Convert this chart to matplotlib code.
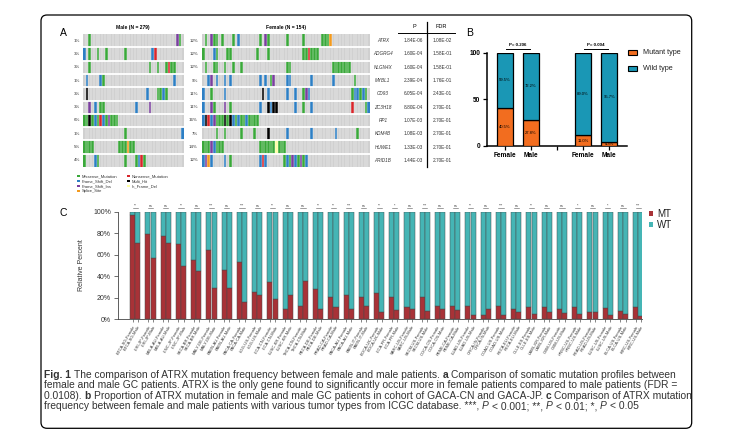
import matplotlib
matplotlib.use('Agg')
import matplotlib.pyplot as plt
import numpy as np
from matplotlib.colors import ListedColormap, BoundaryNorm
from matplotlib.patches import FancyBboxPatch, Rectangle

plt.rcParams['font.family'] = ['Liberation Sans', 'DejaVu Sans']

# ---------------- data ----------------
genes = ['ATRX', 'ADGRG4', 'NLGN4X', 'MYBL1', 'CD93', 'ZC3H18', 'RP1', 'KDM4B', 'HUWE1', 'ARID1B']
male_pct = ['1%', '3%', '3%', '1%', '3%', '3%', '6%', '1%', '5%', '4%']
female_pct = ['12%', '12%', '12%', '9%', '11%', '11%', '16%', '7%', '14%', '12%']
p_vals = ['1.84E-06', '1.60E-04', '1.60E-04', '2.39E-04', '6.05E-04', '8.80E-04', '1.07E-03', '1.08E-03', '1.33E-03', '1.44E-03']
fdr_vals = ['1.08E-02', '1.58E-01', '1.58E-01', '1.76E-01', '2.43E-01', '2.70E-01', '2.70E-01', '2.70E-01', '2.70E-01', '2.70E-01']

mut_types = ['Missense_Mutation', 'Frame_Shift_Del', 'Frame_Shift_Ins', 'Splice_Site',
             'Nonsense_Mutation', 'Multi_Hit', 'In_Frame_Del']
mut_codes = ['M', 'D', 'I', 'S', 'N', 'H', 'F']
mut_colors = ['#3aa83a', '#2d7fc4', '#7a3f9e', '#f39a1e', '#d8262c', '#000000', '#ffffa6']

male_n_cols = 37
male_mut = [
    [(2, 'M'), (34, 'I'), (35, 'M')],
    [(0, 'D'), (2, 'M'), (5, 'M'), (8, 'M'), (15, 'M'), (25, 'D'), (26, 'N')],
    [(2, 'M'), (24, 'M'), (27, 'M'), (30, 'M'), (31, 'N'), (32, 'M'), (33, 'M')],
    [(1, 'D'), (6, 'D'), (7, 'M'), (33, 'D')],
    [(1, 'H'), (23, 'D'), (27, 'M'), (28, 'M'), (29, 'D'), (30, 'M')],
    [(2, 'I'), (4, 'D'), (6, 'M'), (7, 'M'), (19, 'D'), (24, 'I')],
    [(0, 'M'), (1, 'M'), (2, 'H'), (3, 'M'), (4, 'D'), (5, 'M'), (6, 'N'), (7, 'D'), (8, 'M'),
     (9, 'I'), (10, 'M'), (11, 'M'), (12, 'M')],
    [(15, 'M'), (36, 'D')],
    [(0, 'M'), (1, 'M'), (2, 'M'), (3, 'M'), (13, 'M'), (14, 'M'), (15, 'M'), (16, 'S'), (17, 'M'), (18, 'M')],
    [(0, 'M'), (4, 'D'), (5, 'M'), (15, 'M'), (19, 'M'), (20, 'D'), (21, 'N'), (22, 'M')],
]
female_n_cols = 62
female_mut = [
    [(1, 'M'), (3, 'I'), (4, 'M'), (5, 'M'), (7, 'M'), (11, 'M'), (13, 'D'), (21, 'M'), (23, 'I'),
     (24, 'M'), (31, 'M'), (37, 'M'), (44, 'M'), (45, 'M'), (46, 'M'), (47, 'S')],
    [(0, 'M'), (4, 'D'), (5, 'M'), (9, 'M'), (10, 'M'), (20, 'M'), (24, 'M'), (37, 'M'), (38, 'M'),
     (39, 'N'), (40, 'M'), (41, 'M'), (42, 'M')],
    [(1, 'M'), (4, 'M'), (5, 'M'), (8, 'M'), (11, 'M'), (14, 'M'), (31, 'M'), (32, 'M'), (48, 'M'),
     (49, 'M'), (50, 'M'), (51, 'M'), (52, 'M'), (53, 'M'), (54, 'M')],
    [(2, 'D'), (3, 'I'), (5, 'D'), (8, 'D'), (10, 'D'), (21, 'D'), (23, 'D'), (25, 'M'), (26, 'I'),
     (31, 'D'), (32, 'D'), (40, 'D'), (48, 'D'), (56, 'M')],
    [(0, 'D'), (3, 'M'), (8, 'D'), (22, 'H'), (24, 'D'), (31, 'D'), (34, 'D'), (37, 'M'), (38, 'I'),
     (39, 'D'), (55, 'M'), (56, 'D'), (57, 'D'), (58, 'M'), (59, 'D'), (60, 'M')],
    [(0, 'D'), (3, 'I'), (4, 'M'), (8, 'I'), (10, 'M'), (21, 'D'), (24, 'H'), (25, 'D'), (26, 'H'),
     (27, 'H'), (34, 'D'), (37, 'M'), (40, 'D'), (55, 'N'), (60, 'M'), (61, 'D')],
    [(0, 'D'), (1, 'H'), (2, 'N'), (3, 'D'), (4, 'I'), (5, 'M'), (6, 'M'), (7, 'M'), (8, 'H'), (9, 'M'),
     (10, 'H'), (11, 'D'), (12, 'M'), (13, 'D'), (14, 'M'), (15, 'M'), (16, 'D'), (17, 'M'), (18, 'M'),
     (19, 'M'), (20, 'M')],
    [(5, 'M'), (8, 'M'), (14, 'M'), (19, 'M'), (24, 'H'), (31, 'D'), (40, 'D'), (49, 'D'), (57, 'M')],
    [(0, 'M'), (1, 'M'), (2, 'M'), (3, 'I'), (4, 'D'), (5, 'M'), (6, 'M'), (7, 'M'), (21, 'M'), (22, 'M'),
     (23, 'M'), (24, 'M'), (25, 'M'), (26, 'M'), (27, 'F'), (28, 'M'), (29, 'M'), (30, 'M')],
    [(0, 'D'), (1, 'I'), (2, 'S'), (3, 'D'), (8, 'D'), (10, 'M'), (21, 'D'), (22, 'N'), (23, 'D'),
     (30, 'M'), (31, 'D'), (32, 'M'), (33, 'I'), (34, 'D'), (35, 'M'), (36, 'I'), (37, 'M'), (38, 'D')],
]

# Panel B
b_labels = ['Female', 'Male', '', 'Female', 'Male']
b_positions = [0, 1, 3, 4]
b_mutant = [40.5, 27.8, 11.0, 4.3]
b_wild = [59.5, 72.2, 89.0, 95.7]
b_pvals = ['P= 0.206', 'P= 0.004']

# Panel C
c_projects = ['BTCA-SG', 'LIRI-JP', 'MELA-AU', 'LINC-JP', 'SKCA-BR', 'MALY-DE', 'PAEN-AU', 'PACA-CA',
              'LGG-US', 'LICA-CN', 'LUSC-KR', 'THCA-CN', 'PBCA-DE', 'PRAD-CA', 'PACA-AU', 'PAEN-IT',
              'BOCA-UK', 'LICA-FR', 'SARC-US', 'SKCM-US', 'COCA-CN', 'PEME-CA', 'LUAD-US', 'ORCA-IN',
              'COAD-US', 'RECA-EU', 'CLLE-ES', 'LAML-KR', 'GBM-US', 'HNSC-US', 'READ-US', 'LUSC-US',
              'BLCA-US', 'KIRC-US']
c_female_mt = [97, 79, 77, 70, 55, 64, 46, 53, 25, 35, 10, 12.4, 28, 21, 23, 21, 24, 20.4, 11.5, 21,
               12, 12.7, 12.4, 3.7, 12.4, 9.9, 11.8, 11.5, 9.6, 11.8, 6.5, 10.5, 7.7, 11]
c_male_mt = [71, 57, 71, 49.5, 45, 29, 29, 16, 22.5, 19, 23, 35.6, 9.3, 11.8, 9.6, 12, 6.8, 8.7, 9.6, 8,
             9.6, 9, 4.3, 9.6, 3.7, 6.8, 5, 6.8, 6.2, 5, 6.5, 4, 5, 3.4]
c_sig = ['**', 'ns', 'ns', '**', 'ns', '***', 'ns', '***', 'ns', '**', 'ns', 'ns', '**', '**', '***', 'ns',
         '**', '*', 'ns', '***', 'ns', 'ns', '**', 'ns', '***', 'ns', '**', 'ns', 'ns', '*', 'ns', '*',
         'ns', '***']

# caption: list of (text, weight, style) runs per line
caption_lines = [
    [("Fig. 1", 'bold', 'normal'),
     (" The comparison of ATRX mutation frequency between female and male patients. ", 'normal', 'normal'),
     ("a", 'bold', 'normal'),
     (" Comparison of somatic mutation profiles between", 'normal', 'normal')],
    [("female and male GC patients. ATRX is the only gene found to significantly occur more in female patients compared to male patients (FDR =", 'normal', 'normal')],
    [("0.0108). ", 'normal', 'normal'), ("b", 'bold', 'normal'),
     (" Proportion of ATRX mutation in female and male GC patients in cohort of GACA-CN and GACA-JP. ", 'normal', 'normal'),
     ("c", 'bold', 'normal'), (" Comparison of ATRX mutation", 'normal', 'normal')],
    [("frequency between female and male patients with various tumor types from ICGC database. ***, ", 'normal', 'normal'),
     ("P", 'normal', 'italic'), (" < 0.001; **, ", 'normal', 'normal'), ("P", 'normal', 'italic'),
     (" < 0.01; *, ", 'normal', 'normal'), ("P", 'normal', 'italic'), (" < 0.05", 'normal', 'normal')],
]

# ---------------- figure ----------------
W, H = 732, 444
fig = plt.figure(figsize=(W / 100, H / 100), dpi=100)
fig.patch.set_facecolor('white')


def px_axes(x0, y0, x1, y1):
    a = fig.add_axes([x0 / W, 1 - y1 / H, (x1 - x0) / W, (y1 - y0) / H])
    a.set_facecolor('none')
    return a


bg = fig.add_axes([0, 0, 1, 1])
bg.set_xlim(0, W)
bg.set_ylim(H, 0)
bg.axis('off')

bg.add_patch(FancyBboxPatch((41, 15), 650.7, 413.3, boxstyle='round,pad=0,rounding_size=6',
                            fc='none', ec='black', lw=0.9))

# ---------- Panel A ----------
bg.text(63, 33, 'A', fontsize=7.5, ha='center', va='center')
cmap = ListedColormap(['#d0d0d0'] + mut_colors)
norm = BoundaryNorm(np.arange(-0.5, len(mut_colors) + 1.5), cmap.N)
row_top, row_h = 34.0, 13.3


def oncoprint(x0, x1, ncols, muts):
    a = px_axes(x0, row_top, x1, row_top + row_h * len(genes))
    mat = np.zeros((len(genes), ncols))
    for r, lst in enumerate(muts):
        for c, t in lst:
            mat[r, c] = mut_codes.index(t) + 1
    a.pcolormesh(np.arange(ncols + 1), np.arange(len(genes) + 1), mat, cmap=cmap, norm=norm)
    a.vlines(np.arange(1, ncols), 0, len(genes), colors='white', lw=0.3)
    a.hlines(np.arange(1, len(genes)), 0, ncols, colors='white', lw=1.3)
    a.set_xlim(0, ncols)
    a.set_ylim(len(genes), 0)
    a.axis('off')
    return a


oncoprint(83, 184, male_n_cols, male_mut)
oncoprint(202, 370, female_n_cols, female_mut)
bg.text(133, 27, 'Male (N = 279)', fontsize=3.6, fontweight='bold', ha='center', va='center')
bg.text(286, 27, 'Female (N = 154)', fontsize=3.6, fontweight='bold', ha='center', va='center')
for i, g in enumerate(genes):
    yc = row_top + row_h * (i + 0.5)
    bg.text(80, yc, male_pct[i], fontsize=3.2, ha='right', va='center', color='#333333')
    bg.text(198, yc, female_pct[i], fontsize=3.2, ha='right', va='center', color='#333333')
    bg.text(383, yc, g, fontsize=3.3, style='italic', ha='center', va='center', color='#333333')
    bg.text(413, yc, p_vals[i], fontsize=3.4, ha='center', va='center', color='#333333')
    bg.text(442, yc, fdr_vals[i], fontsize=3.4, ha='center', va='center', color='#333333')
bg.text(414, 27, 'P', fontsize=4, ha='center', va='center')
bg.text(441, 27, 'FDR', fontsize=4, ha='center', va='center')
bg.plot([398, 455], [33, 33], color='black', lw=0.7)
bg.plot([427, 427], [22, 167], color='black', lw=0.9)

leg_pos = [(78.5, 176), (78.5, 181), (78.5, 186), (78.5, 191), (128.5, 176), (128.5, 181), (128.5, 186)]
for (lx, ly), name, col in zip(leg_pos, mut_types, mut_colors):
    bg.add_patch(Rectangle((lx - 1.1, ly - 1.1), 2.2, 2.2, fc=col, ec='none'))
    bg.text(lx + 3, ly, name, fontsize=3.0, ha='left', va='center', color='#333333')

# ---------- Panel B ----------
bg.text(470, 33, 'B', fontsize=7.5, ha='center', va='center')
axB = px_axes(486.7, 52.7, 627, 145.7)
orange, teal = '#f26d1f', '#1a97b5'
axB.bar(b_positions, b_mutant, width=0.62, color=orange, edgecolor='black', lw=0.9, zorder=3)
axB.bar(b_positions, b_wild, bottom=b_mutant, width=0.62, color=teal, edgecolor='black', lw=0.9, zorder=3)
for x, m, w in zip(b_positions, b_mutant, b_wild):
    axB.text(x, m / 2, f'{m:.1f}%', fontsize=3.0, ha='center', va='center', zorder=4)
    axB.text(x, m + w / 2, f'{w:.1f}%', fontsize=3.0, ha='center', va='center', zorder=4)
for k, lab in enumerate(b_pvals):
    x0, x1 = b_positions[2 * k], b_positions[2 * k + 1]
    axB.plot([x0 + 0.05, x1 - 0.05], [103.7, 103.7], color='black', lw=0.7, clip_on=False)
    axB.text((x0 + x1) / 2, 108.5, lab, fontsize=3.2, fontweight='bold', ha='center', va='center')
axB.set_xlim(-0.69, 4.68)
axB.set_ylim(0, 100)
axB.set_yticks([0, 50, 100])
axB.set_yticklabels(['0', '50', '100'], fontsize=4.7, fontweight='bold')
axB.set_xticks(range(len(b_labels)))
axB.set_xticklabels(b_labels, fontsize=4.7, fontweight='bold')
axB.tick_params(length=3, width=0.9, pad=1.5)
for s in ['top', 'right']:
    axB.spines[s].set_visible(False)
for s in ['left', 'bottom']:
    axB.spines[s].set_linewidth(1.1)
for k, (lab, col) in enumerate([('Mutant type', orange), ('Wild type', teal)]):
    y = 53 + 15.7 * k
    bg.add_patch(Rectangle((628, y - 2.5), 9, 5, fc=col, ec='black', lw=0.8))
    bg.text(643, y, lab, fontsize=5.2, ha='left', va='center', color='#222222')

# ---------- Panel C ----------
bg.text(63.5, 213, 'C', fontsize=7.5, ha='center', va='center')
axC = px_axes(118, 211.7, 642, 319.3)
mt_col, wt_col = '#a83237', '#45b5b5'
n = len(c_projects)
xs = np.arange(n)
xf, xm = xs - 0.17, xs + 0.17
bw = 0.33
c_female_wt = [100 - v for v in c_female_mt]
c_male_wt = [100 - v for v in c_male_mt]
axC.bar(xf, c_female_mt, width=bw, color=mt_col, edgecolor='#4a4a4a', lw=0.35)
axC.bar(xf, c_female_wt, bottom=c_female_mt, width=bw, color=wt_col, edgecolor='#4a4a4a', lw=0.35)
axC.bar(xm, c_male_mt, width=bw, color=mt_col, edgecolor='#4a4a4a', lw=0.35)
axC.bar(xm, c_male_wt, bottom=c_male_mt, width=bw, color=wt_col, edgecolor='#4a4a4a', lw=0.35)
for i, s in enumerate(c_sig):
    axC.plot([xf[i], xm[i]], [103, 103], color='#555555', lw=0.4, clip_on=False)
    axC.text(xs[i], 105.6, s, fontsize=2.6, ha='center', va='center', color='#333333')
ticks = np.ravel(np.column_stack([xf, xm]))
labels = []
for p in c_projects:
    labels += [p + '-Female', p + '-Male']
axC.set_xticks(ticks)
axC.set_xticklabels(labels, rotation=60, ha='right', rotation_mode='anchor', fontsize=3.0, color='#333333')
axC.set_xlim(-1.135, 33.25)
axC.set_ylim(0, 100)
axC.set_yticks(range(0, 101, 20))
axC.set_yticklabels([f'{v}%' for v in range(0, 101, 20)], fontsize=5, color='#333333')
axC.set_ylabel('Relative Percent', fontsize=5, color='#333333', labelpad=6)
axC.tick_params(axis='x', length=2.5, width=0.5, colors='#555555', pad=1.5)
axC.tick_params(axis='y', length=3, width=0.6, colors='#555555', pad=2)
for lab in axC.get_xticklabels() + axC.get_yticklabels():
    lab.set_color('#333333')
for s in ['top', 'right']:
    axC.spines[s].set_visible(False)
for s in ['left', 'bottom']:
    axC.spines[s].set_linewidth(0.6)
    axC.spines[s].set_color('#444444')
for k, (lab, col) in enumerate([('MT', mt_col), ('WT', wt_col)]):
    y = 213.5 + 11 * k
    bg.add_patch(Rectangle((648.5, y - 2.3), 4.6, 4.6, fc=col, ec='none'))
    bg.text(657, y, lab, fontsize=7, ha='left', va='center', color='#222222')

# ---------- Caption ----------
renderer = fig.canvas.get_renderer()
px_scale = W / fig.bbox.width


def text_advance(s, size, weight, style):
    t1 = bg.text(0, 0, '|' + s + '|', fontsize=size, fontweight=weight, fontstyle=style)
    t2 = bg.text(0, 0, '||', fontsize=size, fontweight=weight, fontstyle=style)
    w = t1.get_window_extent(renderer).width - t2.get_window_extent(renderer).width
    t1.remove()
    t2.remove()
    return w * px_scale


def line_width(runs, size):
    return sum(text_advance(s, size, wt, st) for s, wt, st in runs)


base = 6.0
size = base * 640 / line_width(caption_lines[0], base)
ys = [374.5, 385, 395.5, 406]
for runs, y in zip(caption_lines, ys):
    x = 44.0
    for s, wt, st in runs:
        lead = len(s) - len(s.lstrip(' '))
        if lead:
            x += text_advance(' ' * lead, size, wt, st)
        core = s.lstrip(' ')
        bg.text(x, y, core, fontsize=size, fontweight=wt, fontstyle=st, ha='left', va='center',
                color='#333333')
        x += text_advance(core, size, wt, st)

fig.savefig('out.png', dpi=100, facecolor='white')
